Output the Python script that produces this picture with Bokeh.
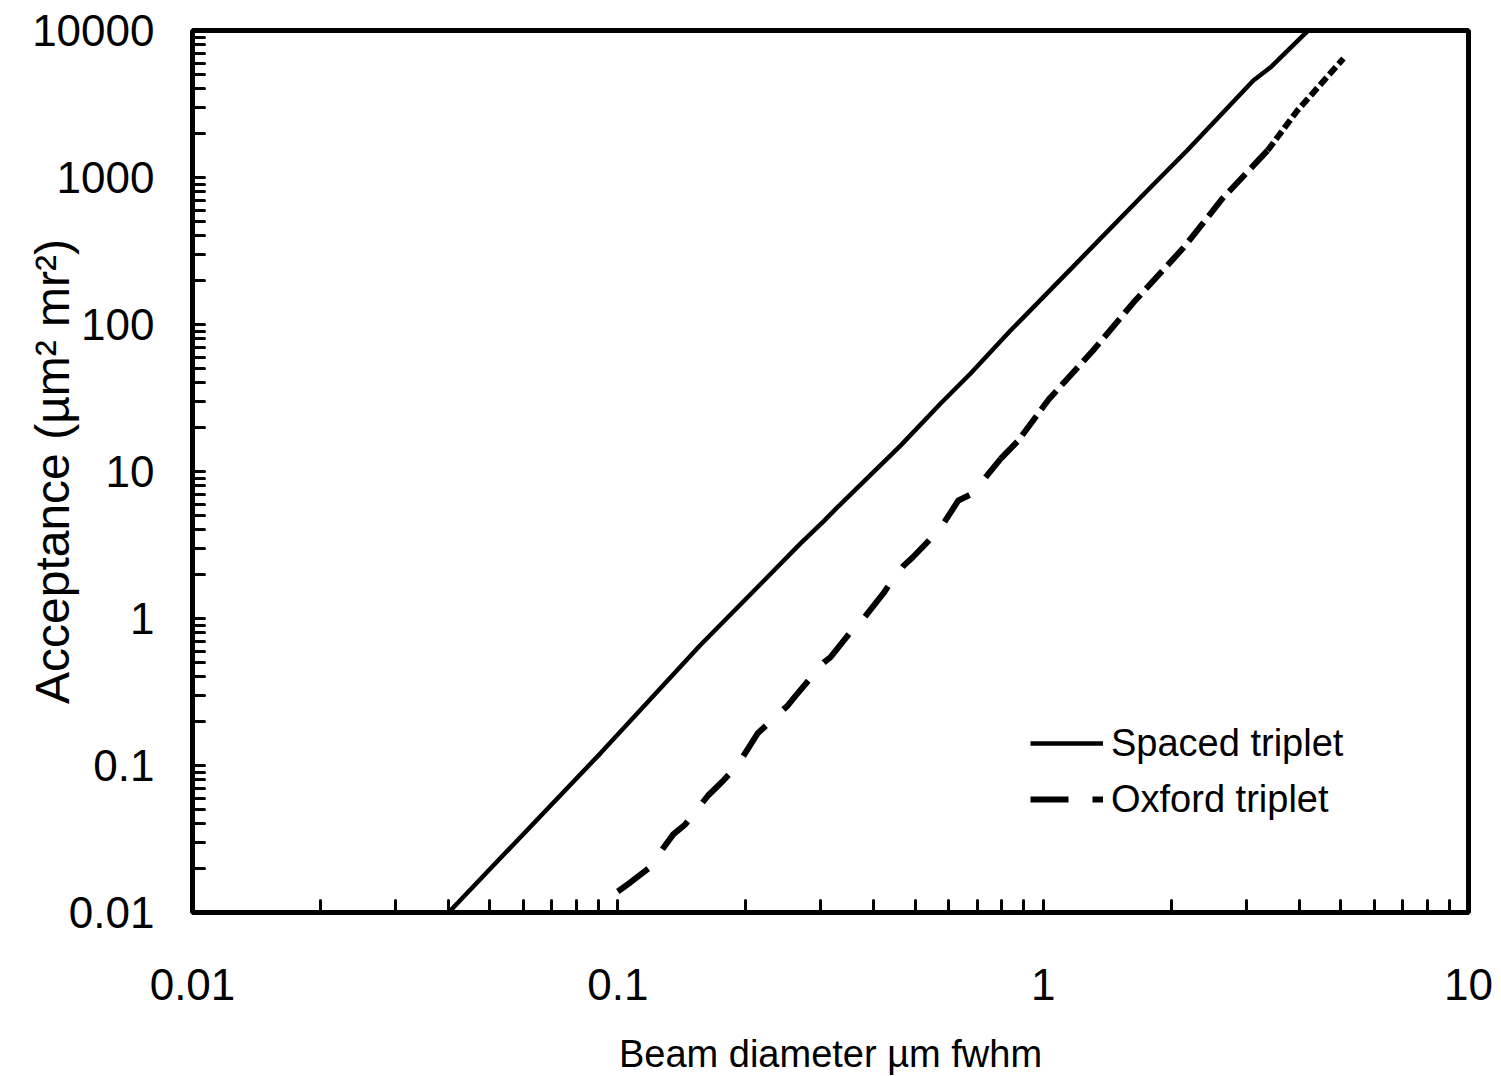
import math
from bokeh.plotting import figure
from bokeh.models import FixedTicker, Legend, LegendItem, Range1d
from bokeh.embed import file_html
from bokeh.resources import INLINE

# ---- data ----
spaced_x = [0.04, 0.091, 0.156, 0.269, 0.305, 0.33, 0.462, 0.574, 0.675, 0.838,
            1.17, 1.74, 2.18, 3.12, 3.42, 4.3]
spaced_y = [0.01, 0.121, 0.655, 3.24, 4.6, 5.8, 15.0, 29.0, 46.4, 91.0,
            244.0, 791.0, 1527.0, 4570.0, 5600.0, 10700.0]

oxford_x = [0.1, 0.107, 0.118, 0.135, 0.144, 0.163, 0.177, 0.191, 0.213, 0.251,
            0.262, 0.305, 0.316, 0.366, 0.378, 0.421, 0.438, 0.470, 0.493, 0.574,
            0.583, 0.632, 0.682, 0.794, 0.875, 1.03, 1.31, 1.63, 2.14, 2.64,
            3.37, 3.96, 5.08]
oxford_y = [0.0139, 0.016, 0.0199, 0.034, 0.0397, 0.0625, 0.079, 0.1, 0.165, 0.256,
            0.299, 0.502, 0.543, 0.925, 1.0, 1.48, 1.76, 2.29, 2.60, 4.10,
            4.43, 6.35, 7.08, 12.2, 16.3, 30.9, 66.5, 141.0, 334.0, 720.0,
            1527.0, 2856.0, 6450.0]

x_ticks = [0.01, 0.1, 1, 10]
x_tick_labels = ["0.01", "0.1", "1", "10"]
y_ticks = [0.01, 0.1, 1, 10, 100, 1000, 10000]
y_tick_labels = ["0.01", "0.1", "1", "10", "100", "1000", "10000"]

series_names = ["Spaced triplet", "Oxford triplet"]
x_title = "Beam diameter \u00b5m fwhm"
y_title = "Acceptance (\u00b5m\u00b2 mr\u00b2)"

FONT = "Liberation Sans"

p = figure(x_axis_type="log", y_axis_type="log",
           output_backend="svg", toolbar_location=None,
           frame_width=1276, frame_height=882,
           min_border_left=192, min_border_top=30,
           min_border_right=30, min_border_bottom=160,
           x_range=Range1d(0.01, 10), y_range=Range1d(0.01, 10000))
p.background_fill_color = "white"
p.border_fill_color = "white"
p.grid.visible = False
p.outline_line_color = "black"
p.outline_line_width = 5


def minors(ticks):
    out = []
    for t in ticks[:-1]:
        for k in range(2, 10):
            out.append(t * k)
    return out


p.xaxis.ticker = FixedTicker(ticks=x_ticks, minor_ticks=minors(x_ticks))
p.yaxis.ticker = FixedTicker(ticks=y_ticks, minor_ticks=minors(y_ticks))
p.xaxis.major_label_overrides = {v: s for v, s in zip(x_ticks, x_tick_labels)}
p.yaxis.major_label_overrides = {v: s for v, s in zip(y_ticks, y_tick_labels)}

for ax in (p.xaxis, p.yaxis):
    ax.axis_line_color = None
    ax.major_tick_in = 12
    ax.major_tick_out = 0
    ax.minor_tick_in = 12
    ax.minor_tick_out = 0
    ax.major_tick_line_width = 3
    ax.minor_tick_line_width = 3
    ax.major_tick_line_cap = "round"
    ax.minor_tick_line_cap = "round"
    ax.major_tick_line_color = "black"
    ax.minor_tick_line_color = "black"
    ax.major_label_text_font = FONT
    ax.major_label_text_font_size = "44px"
    ax.major_label_text_color = "black"
    ax.axis_label_text_font = FONT
    ax.axis_label_text_font_style = "normal"
    ax.axis_label_text_color = "black"

p.xaxis.major_label_standoff = 56
p.yaxis.major_label_standoff = 38
p.xaxis.axis_label = x_title
p.xaxis.axis_label_text_font_size = "38px"
p.xaxis.axis_label_standoff = 30

# y title sits in the band left of the tick labels, overlapping their column
p.yaxis.axis_label = y_title
p.yaxis.axis_label_text_font_size = "48px"
p.yaxis.axis_label_standoff = -50

r_sp = p.line(spaced_x, spaced_y, line_color="black", line_width=4.5)
# Oxford triplet (dash pattern tightens along the curve, as in the reference)
i1, i2 = 23, 30
r_ox1 = p.line(oxford_x[:i1 + 1], oxford_y[:i1 + 1], line_color="black",
               line_width=6, line_dash="38 24")
r_ox2 = p.line(oxford_x[i1:i2 + 1], oxford_y[i1:i2 + 1], line_color="black",
               line_width=6, line_dash="24 8")
r_ox3 = p.line(oxford_x[i2:], oxford_y[i2:], line_color="black",
               line_width=6, line_dash="10 4")

legend = Legend(items=[LegendItem(label=series_names[0], renderers=[r_sp]),
                       LegendItem(label=series_names[1], renderers=[r_ox1])],
                location=(838, 85), glyph_width=73, glyph_height=56,
                label_height=56, label_standoff=8, spacing=0, padding=0,
                margin=0, border_line_color=None, background_fill_alpha=0,
                label_text_font=FONT, label_text_font_size="38px",
                label_text_color="black")
p.add_layout(legend)

open("out.html", "w").write(file_html(p, INLINE))
